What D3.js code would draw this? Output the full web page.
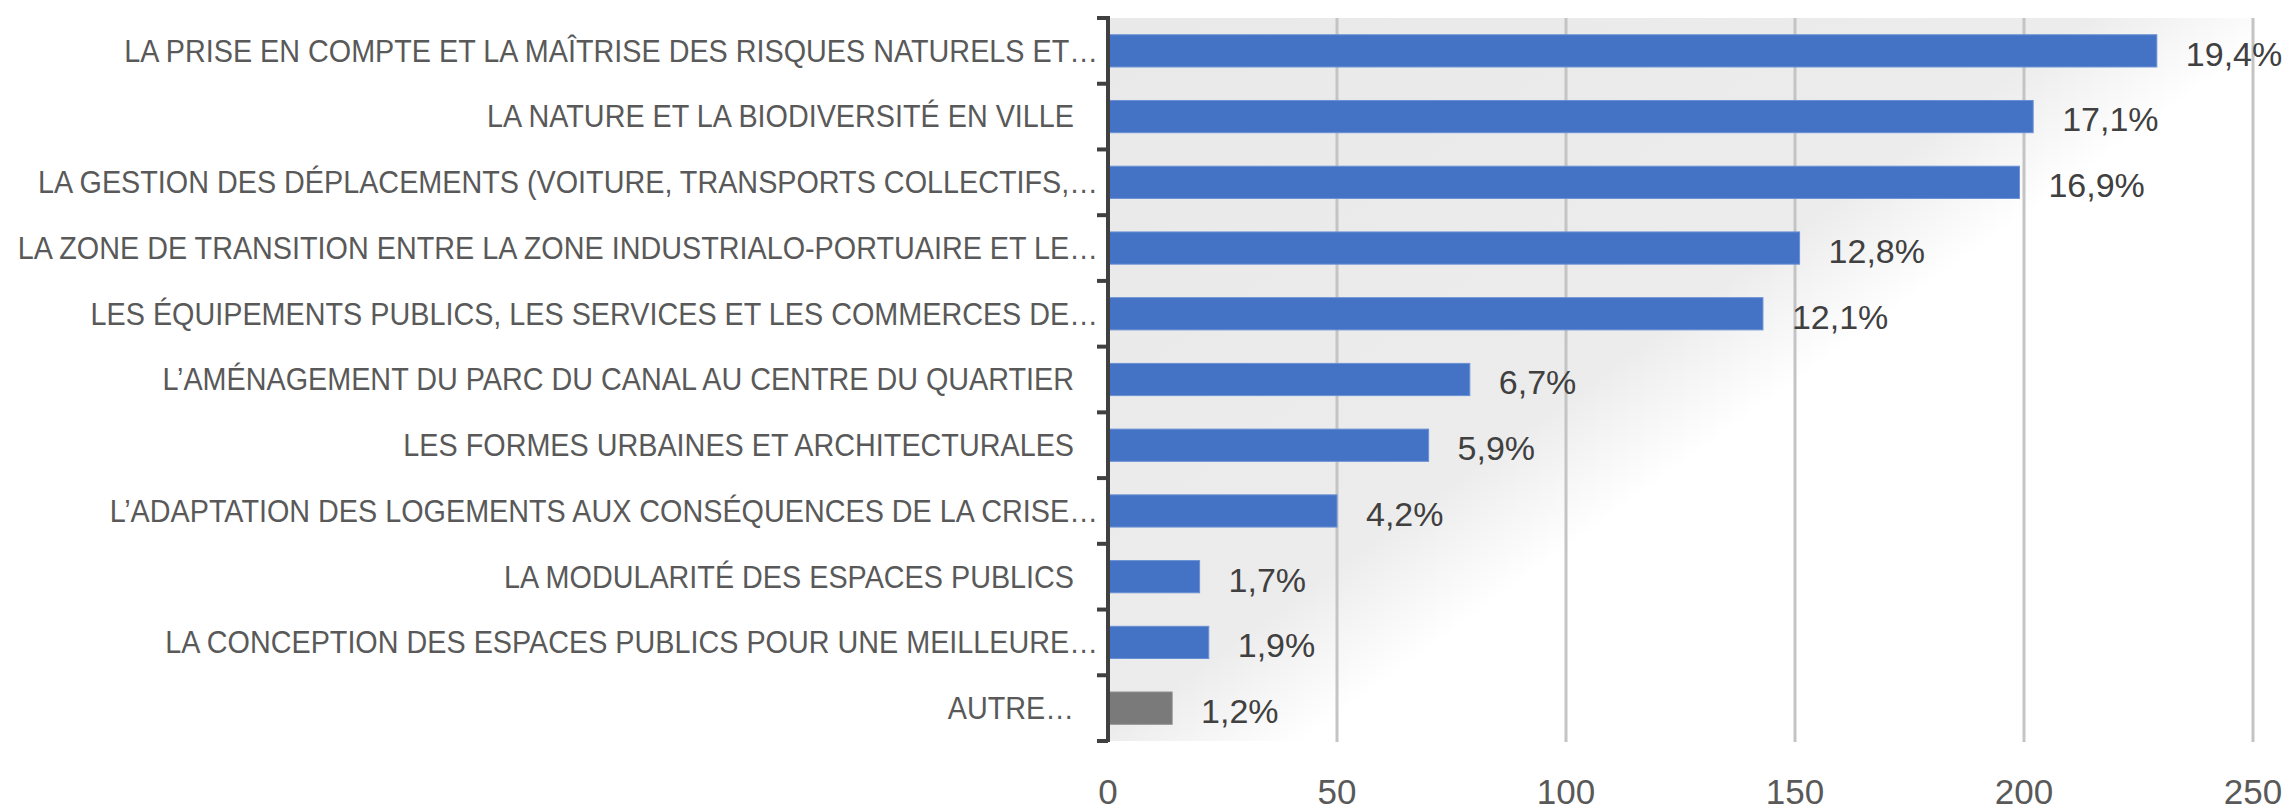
<!DOCTYPE html>
<html>
<head>
<meta charset="utf-8">
<script src="https://cdn.jsdelivr.net/npm/d3@7"></script>
<style>
  body { margin: 0; background: #ffffff; }
  text { font-family: "Liberation Sans", Arial, sans-serif; }
</style>
</head>
<body>
<div id="myChart"></div>
<script>
// Data (labels that are not cut keep their trailing spaces)
var categories = [
  "LA PRISE EN COMPTE ET LA MAÎTRISE DES RISQUES NATURELS ET…",
  "LA NATURE ET LA BIODIVERSITÉ EN VILLE   ",
  "LA GESTION DES DÉPLACEMENTS (VOITURE, TRANSPORTS COLLECTIFS,…",
  "LA ZONE DE TRANSITION ENTRE LA ZONE INDUSTRIALO-PORTUAIRE ET LE…",
  "LES ÉQUIPEMENTS PUBLICS, LES SERVICES ET LES COMMERCES DE…",
  "L’AMÉNAGEMENT DU PARC DU CANAL AU CENTRE DU QUARTIER   ",
  "LES FORMES URBAINES ET ARCHITECTURALES   ",
  "L’ADAPTATION DES LOGEMENTS AUX CONSÉQUENCES DE LA CRISE…",
  "LA MODULARITÉ DES ESPACES PUBLICS   ",
  "LA CONCEPTION DES ESPACES PUBLICS POUR UNE MEILLEURE…",
  "AUTRE…   "
];
var values = [229, 202, 199, 151, 143, 79, 70, 50, 20, 22, 14];
var percents = [19.4, 17.1, 16.9, 12.8, 12.1, 6.7, 5.9, 4.2, 1.7, 1.9, 1.2];
var colors = ["#4472c4", "#4472c4", "#4472c4", "#4472c4", "#4472c4", "#4472c4",
              "#4472c4", "#4472c4", "#4472c4", "#4472c4", "#7a7a7a"];
var xTicks = [0, 50, 100, 150, 200, 250];

// Dimensions
var W = 2290, H = 812;
var margin = {top: 18, right: 37, bottom: 71, left: 1108};
var width = W - margin.left - margin.right,
    height = H - margin.top - margin.bottom;

var svg = d3.select("#myChart")
  .append("svg")
    .attr("width", W)
    .attr("height", H);

var g = svg.append("g")
    .attr("transform", "translate(" + margin.left + "," + margin.top + ")");

var x = d3.scaleLinear()
  .domain([0, 250])
  .range([0, width]);

var y = d3.scaleBand()
  .domain(categories)
  .range([0, height])
  .paddingInner(0.51)
  .paddingOuter(0.255);

// Plot area background: grey fading to white towards the lower right
var defs = svg.append("defs");
var grad = defs.append("linearGradient")
  .attr("id", "plotBg")
  .attr("gradientUnits", "userSpaceOnUse")
  .attr("x1", 0).attr("y1", 0)
  .attr("x2", 0.59 * 720).attr("y2", 0.81 * 720);
grad.append("stop").attr("offset", "0").attr("stop-color", "#e9e9e9");
grad.append("stop").attr("offset", "0.8").attr("stop-color", "#ececec");
grad.append("stop").attr("offset", "0.97").attr("stop-color", "#ffffff");

g.append("rect")
  .attr("x", 0).attr("y", 0)
  .attr("width", width).attr("height", height)
  .attr("fill", "url(#plotBg)");

// Vertical gridlines
g.append("g")
  .selectAll("line")
  .data(xTicks.slice(1))
  .join("line")
    .attr("x1", function(d) { return x(d); })
    .attr("x2", function(d) { return x(d); })
    .attr("y1", 0)
    .attr("y2", height + 1)
    .attr("stroke", "#c4c4c4")
    .attr("stroke-width", 3);

// Bars
g.append("g")
  .selectAll("rect")
  .data(values)
  .join("rect")
    .attr("x", 0)
    .attr("y", function(d, i) { return y(categories[i]); })
    .attr("width", function(d) { return x(d); })
    .attr("height", y.bandwidth())
    .attr("fill", function(d, i) { return colors[i]; })
    .attr("stroke", function(d, i) { return i < 10 ? "#6a90d4" : "#8a8a8a"; })
    .attr("stroke-width", 1);

// Data labels
g.append("g")
  .selectAll("text")
  .data(values)
  .join("text")
    .attr("x", function(d) { return x(d) + 29; })
    .attr("y", function(d, i) { return y(categories[i]) + y.bandwidth() / 2 + 3; })
    .attr("dy", "0.35em")
    .attr("fill", "#404040")
    .style("font-size", "34px")
    .text(function(d, i) { return String(percents[i]).replace(".", ",") + "%"; });

// Y axis (categories) with outward ticks between bands
g.append("line")
  .attr("x1", 0).attr("x2", 0)
  .attr("y1", -2).attr("y2", height + 1)
  .attr("stroke", "#404040")
  .attr("stroke-width", 4);

var bounds = categories.map(function(c) { return y(c) - y.step() * y.paddingInner() / 2; });
bounds.push(height);
bounds[0] = 0;
g.append("g")
  .selectAll("line")
  .data(bounds)
  .join("line")
    .attr("x1", -11).attr("x2", 0)
    .attr("y1", function(d) { return d; })
    .attr("y2", function(d) { return d; })
    .attr("stroke", "#404040")
    .attr("stroke-width", 4);

// Category labels, squeezed horizontally to the room left of the axis
var labelG = g.append("g");
var labels = labelG.selectAll("text")
  .data(categories)
  .join("text")
    .attr("xml:space", "preserve")
    .attr("x", 0)
    .attr("y", function(d) { return y(d) + y.bandwidth() / 2; })
    .attr("dy", "0.35em")
    .attr("text-anchor", "end")
    .attr("fill", "#595959")
    .style("font-size", "31px")
    .style("white-space", "pre")
    .text(function(d) { return d; });
var maxLen = d3.max(labels.nodes(), function(n) { return n.getComputedTextLength(); });
var room = margin.left - 10 - 17;
var k = Math.min(1, room / maxLen);
labelG.attr("transform", "translate(-10,0) scale(" + k + ",1)");

// X axis tick labels
g.append("g")
  .selectAll("text")
  .data(xTicks)
  .join("text")
    .attr("x", function(d) { return x(d); })
    .attr("y", height + 51)
    .attr("dy", "0.35em")
    .attr("text-anchor", "middle")
    .attr("fill", "#595959")
    .style("font-size", "35px")
    .text(function(d) { return d; });
</script>
</body>
</html>
